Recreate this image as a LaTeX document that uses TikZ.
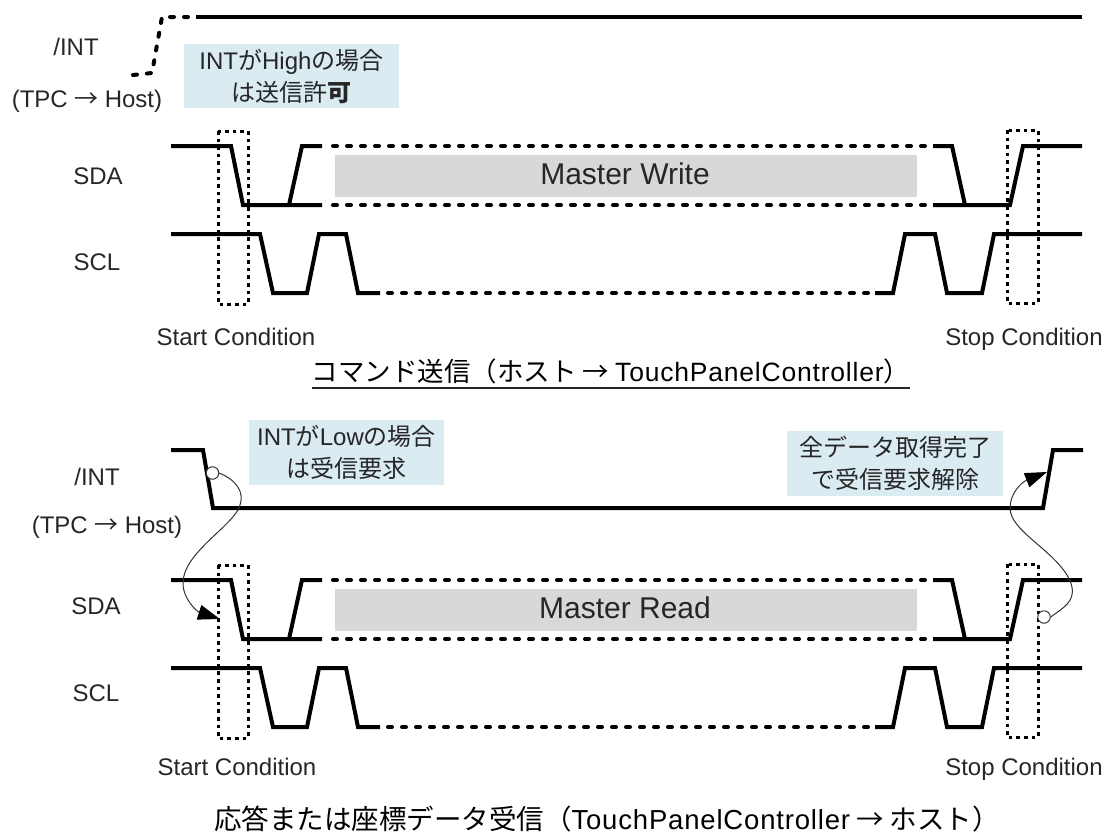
\documentclass[tikz,border=0pt]{standalone}
\usepackage{fontspec}
\setmainfont{Liberation Sans}
\newfontfamily\cjk{Noto Sans CJK JP}
\newfontfamily\wide[LetterSpace=3]{Liberation Sans}
\usepackage{tikz}
\usetikzlibrary{arrows.meta}
\definecolor{hinweis}{HTML}{DAEBF2}
\definecolor{feld}{HTML}{D8D8D8}
\definecolor{schrift}{HTML}{262626}
\tikzset{
  sig/.style={black,line width=4pt,line join=miter},
  sigd/.style={black,line width=4pt,dash pattern=on 4pt off 10pt,line cap=round},
  sigi/.style={black,line width=4pt,dash pattern=on 4pt off 10pt,line cap=round},
  rahmen/.style={black,line width=3pt,dash pattern=on 3.6pt off 4pt},
  lbl/.style={text=schrift,font=\fontsize{24}{28}\selectfont,inner sep=0pt},
  titel/.style={text=black,font=\fontsize{26.5}{30}\selectfont,inner sep=0pt},
  titelb/.style={text=black,font=\fontsize{27.5}{32}\selectfont,inner sep=0pt},
  hint/.style={fill=hinweis,text=schrift,font=\fontsize{24}{32}\selectfont,align=center,inner sep=0pt},
  mst/.style={fill=feld,inner sep=0pt,minimum width=582pt,minimum height=42pt},
  mstx/.style={text=schrift,font=\fontsize{30}{32}\selectfont,inner sep=0pt},
  ring/.style={circle,draw=black!80,fill=white,line width=1pt,minimum size=12.5pt,inner sep=0pt},
  bogen/.style={-{Triangle[length=22pt,width=15pt,color=black]},black!80,line width=1pt},
}
\begin{document}
\begin{tikzpicture}[x=1pt,y=-1pt]
  \useasboundingbox (0,0) rectangle (1105,836);
  % upper /INT
  \draw[sigi] (133,75)--(152,73)--(162,17)--(188,17);
  \draw[sig] (196,17)--(1082,17);
  \node[lbl] (int1) at (76,47) {/INT};
  \node[lbl] (dir1) at (87,101) {(TPC\hspace{6.5pt}{\cjk →}\hspace{6.5pt}Host)};
  \node[hint,minimum width=215pt,minimum height=64pt] (hint1) at (291.5,76) {INT{\cjk が}High{\cjk の場合}\\{\cjk は送信許{\bfseries 可}}};
  % lower /INT
  \draw[sig] (171,450)--(203,450)--(213,508)--(1043,508)--(1053,450)--(1083,450);
  \node[lbl] (int2) at (97,477) {/INT};
  \node[lbl] (dir2) at (107,527) {(TPC\hspace{6.5pt}{\cjk →}\hspace{6.5pt}Host)};
  \node[hint,minimum width=195pt,minimum height=65pt] (hint2) at (346.5,452.5) {INT{\cjk が}Low{\cjk の場合}\\{\cjk は受信要求}};
  \node[hint,minimum width=216pt,minimum height=65pt] (hint3) at (895,463.5) {\cjk 全データ取得完了\\\cjk で受信要求解除};
  % SDA, SCL
  \foreach \yo/\txt/\ya in {0/Master Write/a,434/Master Read/b}{
    \begin{scope}[yshift=-\yo pt]
      \node[mst] (mst\ya) at (626,176) {};
      \node[mstx] (txt\ya) at (625,174) {\txt};
      \draw[sig] (171,146)--(231,146)--(243,205)--(322,205);
      \draw[sig] (289,205)--(302,146)--(322,146);
      \draw[sigd] (333,146)--(926,146);
      \draw[sigd] (333,205)--(926,205);
      \draw[sig] (933,146)--(952,146)--(965,205);
      \draw[sig] (933,205)--(1010,205)--(1023,146)--(1082,146);
      \draw[sig] (171,234)--(260,234)--(273,293)--(307,293)--(319,234)--(346,234)--(358,293)--(380,293);
      \draw[sigd] (388,293)--(869,293);
      \draw[sig] (875,293)--(893,293)--(905,234)--(935,234)--(947,293)--(982,293)--(994,234)--(1082,234);
      \draw[rahmen] (218,131) rectangle (248,304);
      \draw[rahmen] (1007,130) rectangle (1038,303);
    \end{scope}
  }
  % labels
  \node[lbl] (sda1) at (98,176) {SDA};
  \node[lbl] (scl1) at (97,262) {SCL};
  \node[lbl] (sda2) at (96,606) {SDA};
  \node[lbl] (scl2) at (96,693) {SCL};
  \node[lbl,anchor=base] (start1) at (236,345) {Start Condition};
  \node[lbl,anchor=base] (stop1) at (1024,345) {Stop Condition};
  \node[lbl,anchor=base] (start2) at (237,775) {Start Condition};
  \node[lbl,anchor=base] (stop2) at (1024,775) {Stop Condition};
  \node[titel] (head1) at (611,371) {{\cjk コマンド送信（ホスト → }{\wide TouchPanelController}{\cjk ）}};
  \draw[black!85,line width=2pt] ([yshift=-4pt]head1.south west)--([yshift=-4pt]head1.south east);
  \node[titelb] (head2) at (607,819) {{\cjk 応答または座標データ受信（}{\wide TouchPanelController}{\cjk \ → ホスト）}};
  % arcs
  \node[ring] (ringa) at (212.5,473) {};
  \coordinate (tipa) at (220,619);
  \draw[bogen] (ringa.east) .. controls (232,478) and (248,490) .. (238,510)
    .. controls (226,530) and (183,555) .. (183,583)
    .. controls (183,600) and (198,612) .. (tipa);
  \node[ring] (ringb) at (1044,617) {};
  \coordinate (tipb) at (1047,472);
  \draw[bogen] (ringb.east) .. controls (1062,608) and (1082,600) .. (1067,575)
    .. controls (1050,548) and (1010,530) .. (1010,508)
    .. controls (1010,493) and (1022,482) .. (tipb);
\end{tikzpicture}
\end{document}
